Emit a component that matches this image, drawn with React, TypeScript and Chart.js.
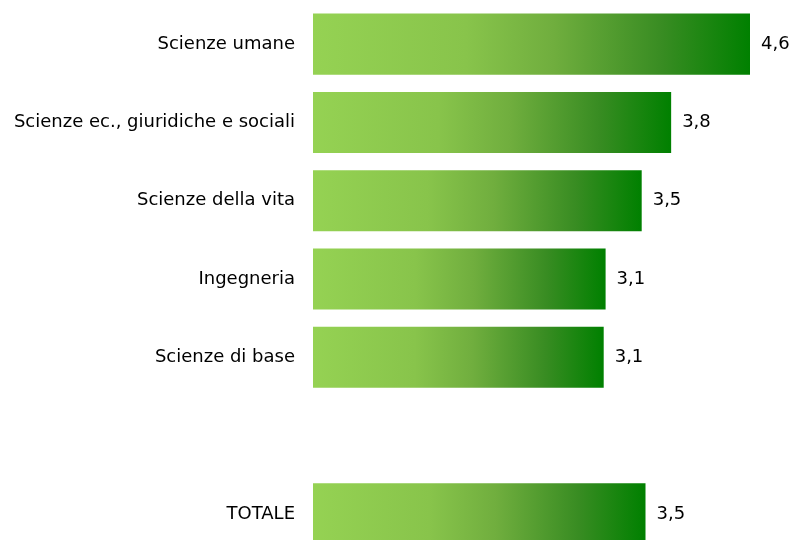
import React, { useEffect, useRef } from "react";
import { Chart, registerables } from "chart.js";

Chart.register(...registerables);

const categories = [
  "Scienze umane",
  "Scienze ec., giuridiche e sociali",
  "Scienze della vita",
  "Ingegneria",
  "Scienze di base",
  "",
  "TOTALE",
];
const values: (number | null)[] = [4.6, 3.77, 3.46, 3.08, 3.06, null, 3.5];
const valueLabels = ["4,6", "3,8", "3,5", "3,1", "3,1", "", "3,5"];

const FONT = "'DejaVu Sans', sans-serif";
const FONT_SIZE = 18;

const valueLabelPlugin = {
  id: "valueLabels",
  afterDatasetsDraw(chart: any) {
    const ctx = chart.ctx;
    const meta = chart.getDatasetMeta(0);
    ctx.save();
    ctx.font = `${FONT_SIZE}px ${FONT}`;
    ctx.fillStyle = "#000000";
    ctx.textAlign = "left";
    ctx.textBaseline = "middle";
    meta.data.forEach((el: any, i: number) => {
      if (values[i] == null) return;
      ctx.fillText(valueLabels[i], el.x + 11, el.y);
    });
    ctx.restore();
  },
};

export default function App() {
  const ref = useRef<HTMLCanvasElement>(null);
  useEffect(() => {
    if (!ref.current) return;
    const chart = new Chart(ref.current, {
      type: "bar",
      data: {
        labels: categories,
        datasets: [
          {
            data: values,
            backgroundColor: (c: any) => {
              const ch = c.chart;
              const xs = ch.scales && ch.scales.x;
              const v = c.raw;
              if (!xs || v == null) return "#6aaa3a";
              const x0 = xs.getPixelForValue(0);
              const x1 = xs.getPixelForValue(v);
              if (!isFinite(x0) || !isFinite(x1) || x1 <= x0) return "#6aaa3a";
              const g = ch.ctx.createLinearGradient(x0, 0, x1, 0);
              g.addColorStop(0, "#95d253");
              g.addColorStop(0.35, "#88c44b");
              g.addColorStop(0.55, "#70ae3e");
              g.addColorStop(0.8, "#388c22");
              g.addColorStop(1, "#008000");
              return g;
            },
            borderWidth: 0,
            barPercentage: 0.78,
            categoryPercentage: 1,
          },
        ],
      },
      options: {
        indexAxis: "y",
        responsive: false,
        animation: false,
        layout: { padding: { top: 5, right: 4, bottom: 0, left: 0 } },
        plugins: {
          legend: { display: false },
          tooltip: { enabled: false },
        },
        scales: {
          x: {
            min: 0,
            max: 5,
            display: false,
            grid: { display: false },
          },
          y: {
            grid: { display: false, drawTicks: false },
            border: { display: false },
            ticks: {
              color: "#000000",
              padding: 18,
              font: { family: FONT, size: FONT_SIZE },
            },
            afterFit: (s: any) => {
              s.width = 313;
              s.paddingTop = 0;
              s.paddingBottom = 0;
            },
          },
        },
      },
      plugins: [valueLabelPlugin],
    } as any);
    return () => chart.destroy();
  }, []);
  return (
    <div
      style={{
        position: "fixed",
        left: 0,
        top: 0,
        width: 792,
        height: 540,
        overflow: "hidden",
        background: "#ffffff",
      }}
    >
      <canvas ref={ref} width={792} height={553} style={{ display: "block" }} />
    </div>
  );
}
